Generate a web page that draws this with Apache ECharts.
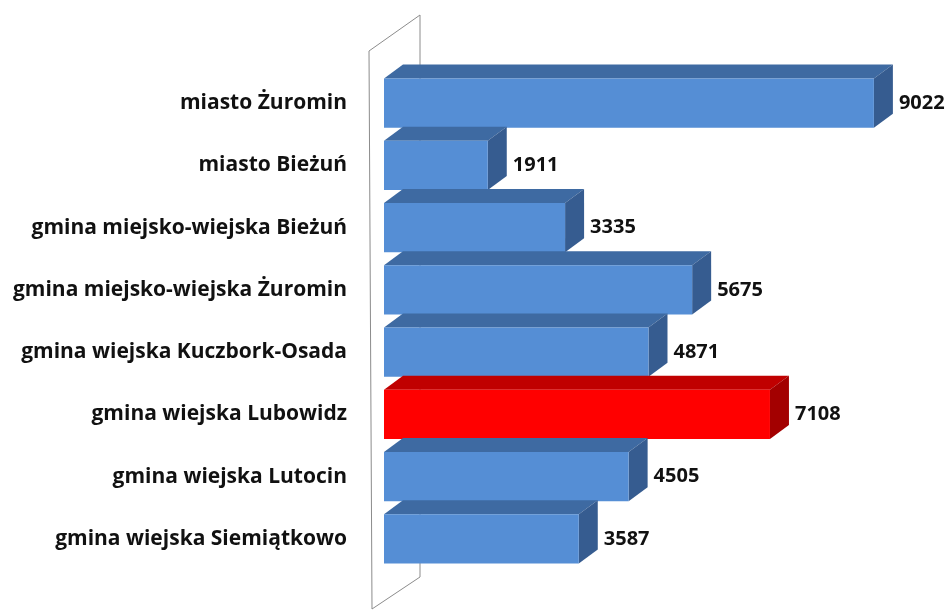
<!DOCTYPE html>
<html>
<head>
<meta charset="utf-8">
<script src="https://cdn.jsdelivr.net/npm/echarts@6/dist/echarts.min.js"></script>
<style>
  html, body { margin: 0; padding: 0; background: #fff; }
  #chart { width: 948px; height: 610px; }
</style>
</head>
<body>
<div id="chart"></div>
<script>
const categories = [
  'miasto Żuromin',
  'miasto Bieżuń',
  'gmina miejsko-wiejska Bieżuń',
  'gmina miejsko-wiejska Żuromin',
  'gmina wiejska Kuczbork-Osada',
  'gmina wiejska Lubowidz',
  'gmina wiejska Lutocin',
  'gmina wiejska Siemiątkowo'
]
const values = [9022, 1911, 3335, 5675, 4871, 7108, 4505, 3587]
const highlighted = ['gmina wiejska Lubowidz']

const DX = 19
const DY = -14
const blue = { front: '#558ed5', top: '#3e6aa2', side: '#365c90' }
const red = { front: '#ff0000', top: '#c00000', side: '#a30000' }

const chart = echarts.init(document.getElementById('chart'))

function renderBar(params, api) {
  const idx = api.value(0)
  const val = api.value(1)
  const start = api.coord([0, idx])
  const end = api.coord([val, idx])
  const h = api.size([0, 1])[1] * 0.79
  const x0 = start[0]
  const x1 = end[0]
  const yT = start[1] - h / 2
  const yB = start[1] + h / 2
  const c = highlighted.includes(categories[idx]) ? red : blue
  return {
    type: 'group',
    children: [
      {
        type: 'polygon',
        shape: { points: [[x0, yT], [x0 + DX, yT + DY], [x1 + DX, yT + DY], [x1, yT]] },
        style: { fill: c.top }
      },
      {
        type: 'polygon',
        shape: { points: [[x1, yT], [x1 + DX, yT + DY], [x1 + DX, yB + DY], [x1, yB]] },
        style: { fill: c.side }
      },
      {
        type: 'rect',
        shape: { x: x0, y: yT, width: x1 - x0, height: h },
        style: { fill: c.front }
      },
      {
        type: 'text',
        x: x1 + DX + 6,
        y: start[1],
        style: {
          text: String(val),
          fill: '#111',
          font: 'bold 20px "Open Sans"',
          verticalAlign: 'middle',
          align: 'left'
        }
      }
    ]
  }
}

chart.setOption({
  animation: false,
  backgroundColor: '#fff',
  grid: { left: 384, right: 21, top: 72, bottom: 40 },
  graphic: [
    {
      type: 'polygon',
      z: -1,
      shape: { points: [[369, 51], [420, 15], [420, 577], [372, 609]] },
      style: { fill: '#fff', stroke: '#8c8c8c', lineWidth: 1 }
    }
  ],
  xAxis: {
    type: 'value',
    min: 0,
    max: 10000,
    show: false
  },
  yAxis: {
    type: 'category',
    inverse: true,
    data: categories,
    axisLine: { show: false },
    axisTick: { show: false },
    axisLabel: {
      margin: 37,
      color: '#111',
      fontSize: 21,
      fontWeight: 'bold',
      fontFamily: 'Open Sans'
    }
  },
  series: [
    {
      type: 'custom',
      renderItem: renderBar,
      encode: { x: 1, y: 0 },
      data: values.map((v, i) => [i, v])
    }
  ]
})
</script>
</body>
</html>
